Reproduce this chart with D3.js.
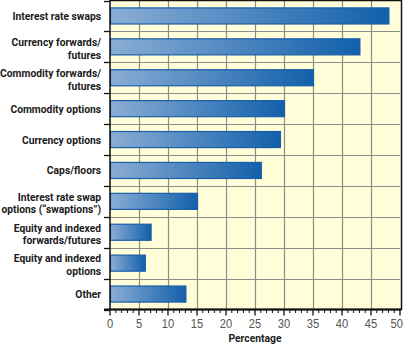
<!DOCTYPE html>
<html><head><meta charset="utf-8">
<script src="https://cdn.jsdelivr.net/npm/d3@7"></script>
<style>html,body{margin:0;padding:0;background:#fff;}svg{display:block;}</style>
</head><body>
<script>
const categories = [
  ["Interest rate swaps"],
  ["Currency forwards/", "futures"],
  ["Commodity forwards/", "futures"],
  ["Commodity options"],
  ["Currency options"],
  ["Caps/floors"],
  ["Interest rate swap", "options (\u201cswaptions\u201d)"],
  ["Equity and indexed", "forwards/futures"],
  ["Equity and indexed", "options"],
  ["Other"]
];
const values = [48, 43, 35, 30, 29.3, 26, 15, 7, 6, 13];
const xTicks = [0, 5, 10, 15, 20, 25, 30, 35, 40, 45, 50];
const xTitle = "Percentage";

const W = 404, H = 345;
const m = {left: 110, right: 3, top: 0.5, bottom: 36};
const svg = d3.select("body").append("svg").attr("width", W).attr("height", H);
const pw = 290, ph = 309;
const x = d3.scaleLinear().domain([0, 50]).range([m.left, m.left + pw]);
const y = d3.scaleBand().domain(d3.range(categories.length)).range([m.top, m.top + ph]).paddingInner(0.48).paddingOuter(0.24);
const yb = d3.scaleBand().domain(d3.range(categories.length)).range([m.top, m.top + ph]);

const defs = svg.append("defs");
const grad = defs.append("linearGradient").attr("id", "bg").attr("x1", "0").attr("x2", "1").attr("y1", "0").attr("y2", "0");
grad.append("stop").attr("offset", "0").attr("stop-color", "#8aadd5");
grad.append("stop").attr("offset", "1").attr("stop-color", "#1260ab");

svg.append("rect").attr("x", m.left).attr("y", m.top).attr("width", pw).attr("height", ph).attr("fill", "#fffed8");

svg.append("g").selectAll("line").data(xTicks.slice(1, -1)).join("line")
  .attr("x1", d => Math.round(x(d)) + 0.5).attr("x2", d => Math.round(x(d)) + 0.5)
  .attr("y1", m.top).attr("y2", m.top + ph).attr("stroke", "#8c8c8c").attr("stroke-width", 1.2);
svg.append("g").selectAll("line").data(d3.range(1, categories.length)).join("line")
  .attr("x1", m.left - 5).attr("x2", m.left + pw)
  .attr("y1", d => Math.round(yb(d)) + 0.5).attr("y2", d => Math.round(yb(d)) + 0.5)
  .attr("stroke", "#8c8c8c").attr("stroke-width", 1.2);
svg.append("g").selectAll("line").data(d3.range(0, categories.length + 1)).join("line")
  .attr("x1", m.left - 6).attr("x2", m.left)
  .attr("y1", d => Math.round(m.top + d * yb.step()) + 0.5).attr("y2", d => Math.round(m.top + d * yb.step()) + 0.5)
  .attr("stroke", "#111").attr("stroke-width", 1.3);

svg.append("g").selectAll("rect").data(values).join("rect")
  .attr("x", x(0) + 0.5).attr("y", (d, i) => y(i))
  .attr("width", d => x(d) - x(0)).attr("height", y.bandwidth())
  .attr("fill", "url(#bg)").attr("stroke", "#1a5ea8").attr("stroke-width", 1.2);

svg.append("rect").attr("x", m.left).attr("y", m.top).attr("width", pw + 1.5).attr("height", ph)
  .attr("fill", "none").attr("stroke", "#111").attr("stroke-width", 1.5);

const xAxisG = svg.append("g").attr("transform", `translate(0,${m.top + ph})`);
xAxisG.append("g").selectAll("line").data(d3.range(0, 51)).join("line")
  .attr("x1", d => x(d)).attr("x2", d => x(d)).attr("y1", 0).attr("y2", d => d % 5 === 0 ? 6 : 3.5)
  .attr("stroke", "#111").attr("stroke-width", d => d % 5 === 0 ? 1.3 : 1);
xAxisG.append("line").attr("x1", m.left - 6).attr("x2", m.left + pw + 1).attr("y1", 0).attr("y2", 0).attr("stroke", "#111").attr("stroke-width", 1.8);
xAxisG.append("g").selectAll("text").data(xTicks).join("text")
  .attr("transform", d => `translate(${d === 50 ? W - 1 : x(d)},18) scale(0.86,1)`)
  .attr("text-anchor", d => d === 50 ? "end" : "middle")
  .attr("font-family", "Liberation Sans, Arial, sans-serif").attr("font-size", 13).attr("fill", "#555")
  .text(d => d);
svg.append("text").attr("transform", `translate(${x(25)},342) scale(0.9,1)`).attr("text-anchor", "middle")
  .attr("font-family", "Roboto, sans-serif").attr("font-weight", "bold").attr("font-size", 11.5).attr("fill", "#222")
  .text(xTitle);

const lab = svg.append("g");
categories.forEach((lines, i) => {
  const cy = yb(i) + yb.bandwidth() / 2 + (lines.length > 1 ? 1.5 : 0);
  const lh = 12.5;
  lines.forEach((t, j) => {
    lab.append("text")
      .attr("transform", `translate(101,${cy + (j - (lines.length - 1) / 2) * lh}) scale(0.92,1)`)
      .attr("dy", "0.36em").attr("text-anchor", "end")
      .attr("font-family", "Roboto, sans-serif").attr("font-weight", "bold").attr("font-size", 11.2).attr("fill", "#1a1a1a")
      .text(t);
  });
});
</script>
</body></html>
